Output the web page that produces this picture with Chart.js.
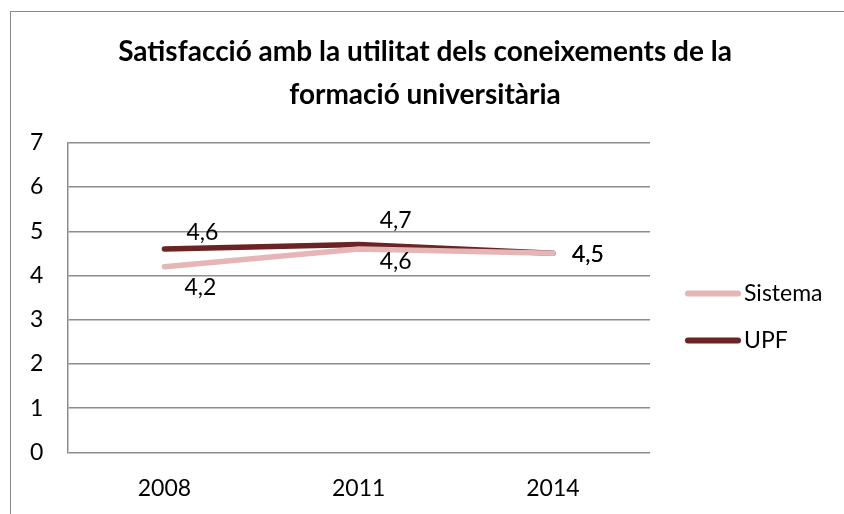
<!doctype html>
<html lang="ca">
<head>
    <meta charset="utf-8">
    <title>Satisfacció amb la utilitat dels coneixements</title>
    <script src="https://cdn.jsdelivr.net/npm/chart.js"></script>
    <style>
        html, body { margin: 0; padding: 0; background: #fff; overflow: hidden; }
        .frame {
            position: absolute; left: 10px; top: 11px;
            width: 900px; height: 600px;
            border: 1px solid #8a8a8a;
        }
        .wrap { position: absolute; left: 0; top: 0; width: 844px; height: 514px; }
    </style>
</head>
<body>
    <div class="frame"></div>
    <div class="wrap"><canvas id="chart"></canvas></div>

    <script>
        const years = ['2008', '2011', '2014'];
        const sistema = [4.2, 4.6, 4.5];
        const upf = [4.6, 4.7, 4.5];
        const yTicks = [0, 1, 2, 3, 4, 5, 6, 7];

        const FONT = 'Lato, "Open Sans", sans-serif';

        // label offsets (px) per point, like Excel's automatic placement
        const labelOffsets = {
            Sistema: [[36, 21], [37, 13], [35, 1]],
            UPF: [[38, -16], [37, -24], [35, 1]]
        };

        const dataLabels = {
            id: 'dataLabels',
            afterDatasetsDraw(chart) {
                const ctx = chart.ctx;
                ctx.save();
                ctx.font = '23px ' + FONT;
                ctx.fillStyle = '#000';
                ctx.textAlign = 'center';
                ctx.textBaseline = 'middle';
                chart.data.datasets.forEach((ds, i) => {
                    const meta = chart.getDatasetMeta(i);
                    meta.data.forEach((pt, j) => {
                        const off = labelOffsets[ds.label][j];
                        ctx.fillText(ds.data[j].toFixed(1).replace('.', ','), pt.x + off[0], pt.y + off[1]);
                    });
                });
                ctx.restore();
            }
        };

        // Excel style legend: short thick line then the name, at the right
        const sideLegend = {
            id: 'sideLegend',
            afterDraw(chart) {
                const ctx = chart.ctx;
                const x0 = chart.chartArea.right + 38;
                let y = (chart.chartArea.top + chart.chartArea.bottom) / 2 - 4;
                ctx.save();
                ctx.font = '23px ' + FONT;
                ctx.textBaseline = 'middle';
                chart.data.datasets.forEach(ds => {
                    ctx.strokeStyle = ds.borderColor;
                    ctx.lineWidth = 6;
                    ctx.lineCap = 'round';
                    ctx.beginPath();
                    ctx.moveTo(x0, y);
                    ctx.lineTo(x0 + 50, y);
                    ctx.stroke();
                    ctx.fillStyle = '#000';
                    ctx.fillText(ds.label, x0 + 56, y);
                    y += 47;
                });
                ctx.restore();
            }
        };

        new Chart(document.getElementById('chart'), {
            type: 'line',
            data: {
                labels: years,
                datasets: [
                    {
                        label: 'Sistema',
                        data: sistema,
                        borderColor: '#e6b6b6',
                        backgroundColor: '#e6b6b6',
                        borderWidth: 5.5,
                        borderCapStyle: 'round',
                        pointRadius: 0,
                        tension: 0
                    },
                    {
                        label: 'UPF',
                        data: upf,
                        borderColor: '#6b2323',
                        backgroundColor: '#6b2323',
                        borderWidth: 5.5,
                        borderCapStyle: 'round',
                        pointRadius: 0,
                        tension: 0
                    }
                ]
            },
            options: {
                responsive: true,
                maintainAspectRatio: false,
                animation: false,
                layout: { padding: { left: 6, right: 0, top: 30, bottom: -10 } },
                plugins: {
                    title: {
                        display: true,
                        text: ['Satisfacció amb la utilitat dels coneixements de la', 'formació universitària'],
                        color: '#000',
                        font: { family: FONT, size: 28, weight: 'bold', lineHeight: 1.55 },
                        padding: { top: 0, bottom: 26 }
                    },
                    legend: { display: false },
                    tooltip: { enabled: false }
                },
                scales: {
                    x: {
                        offset: true,
                        grid: { display: false, drawTicks: false },
                        border: { display: false },
                        ticks: { color: '#000', font: { family: FONT, size: 23 }, padding: 22 }
                    },
                    y: {
                        min: 0,
                        max: 7,
                        afterBuildTicks: (axis) => { axis.ticks = yTicks.map(v => ({ value: v })); },
                        grid: { color: '#8c8c8c', lineWidth: 1.5, drawTicks: false },
                        border: { display: true, color: '#8c8c8c', width: 1.5 },
                        ticks: { color: '#000', font: { family: FONT, size: 23 }, padding: 24 }
                    },
                    // empty right-hand axis that keeps room for the legend
                    side: {
                        type: 'linear',
                        position: 'right',
                        grid: { display: false },
                        border: { display: false },
                        ticks: { display: false },
                        afterFit: (axis) => { axis.width = 194; }
                    }
                }
            },
            plugins: [dataLabels, sideLegend]
        });
    </script>
</body>
</html>
